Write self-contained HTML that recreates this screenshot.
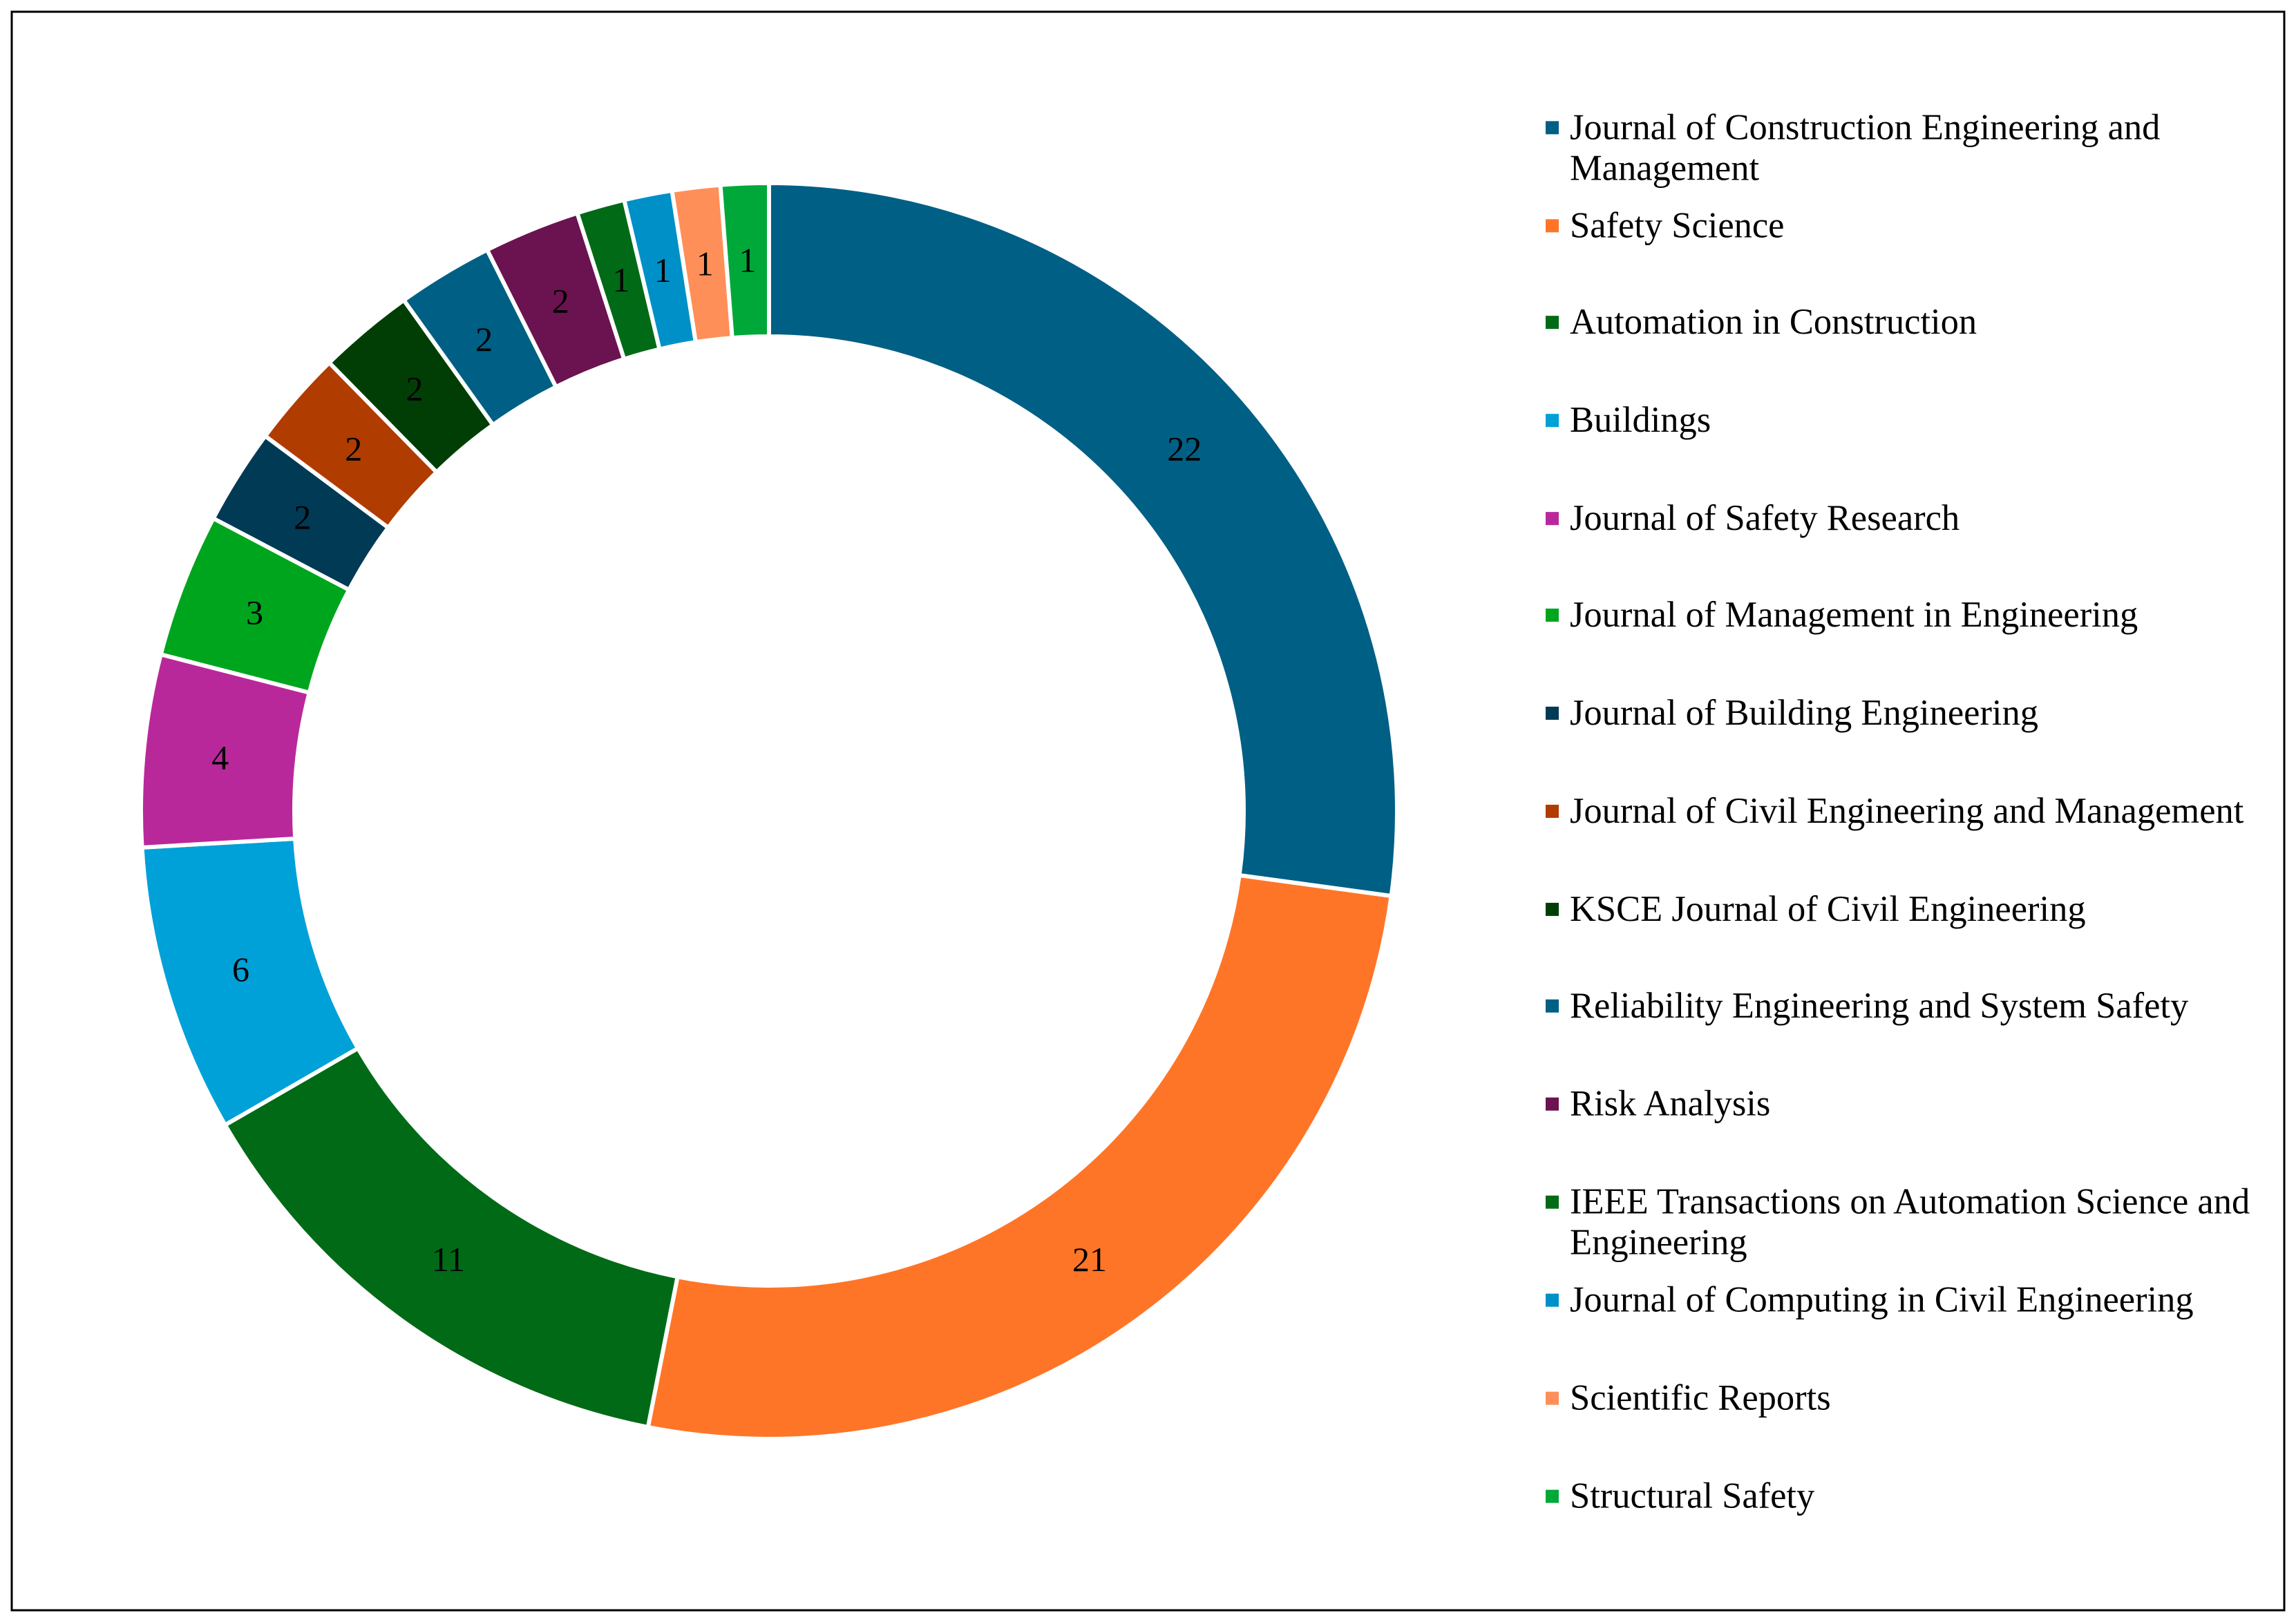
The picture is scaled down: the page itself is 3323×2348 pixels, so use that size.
<!DOCTYPE html>
<html><head><meta charset="utf-8"><style>
html,body{margin:0;padding:0;background:#fff}
svg{display:block}
</style></head><body>
<svg id="chart" width="3323" height="2348" viewBox="0 0 3323 2348" xmlns="http://www.w3.org/2000/svg">
<rect x="17" y="17" width="3289" height="2314" fill="#fff" stroke="#000" stroke-width="3"/>
<g id="slices"></g>
<g id="labels"></g>
<g id="legend"></g>
</svg>
<script>
const categories = ["Journal of Construction Engineering and Management","Safety Science","Automation in Construction","Buildings","Journal of Safety Research","Journal of Management in Engineering","Journal of Building Engineering","Journal of Civil Engineering and Management","KSCE Journal of Civil Engineering","Reliability Engineering and System Safety","Risk Analysis","IEEE Transactions on Automation Science and Engineering","Journal of Computing in Civil Engineering","Scientific Reports","Structural Safety"];
const values = [22,21,11,6,4,3,2,2,2,2,2,1,1,1,1];
const colors = ["#005f85","#ff7528","#006a17","#00a0d8","#b9289a","#00a51e","#003a55","#b03c00","#003e06","#005f85","#6b1350","#006a17","#0090c8","#ff8f58","#00a83a"];
const legendLines = [["Journal of Construction Engineering and","Management"],["Safety Science"],["Automation in Construction"],["Buildings"],["Journal of Safety Research"],["Journal of Management in Engineering"],["Journal of Building Engineering"],["Journal of Civil Engineering and Management"],["KSCE Journal of Civil Engineering"],["Reliability Engineering and System Safety"],["Risk Analysis"],["IEEE Transactions on Automation Science and","Engineering"],["Journal of Computing in Civil Engineering"],["Scientific Reports"],["Structural Safety"]];

const NS="http://www.w3.org/2000/svg";
const cx=1113, cy=1174, R=909, r=687;
const total=values.reduce((a,b)=>a+b,0);
function pt(rad,a){return [cx+rad*Math.sin(a), cy-rad*Math.cos(a)];}
const gS=document.getElementById('slices'), gL=document.getElementById('labels'), gLeg=document.getElementById('legend');
let acc=0;
values.forEach((v,i)=>{
  const a0=acc/total*2*Math.PI; acc+=v; const a1=acc/total*2*Math.PI;
  const large=(a1-a0)>Math.PI?1:0;
  const p0=pt(R,a0),p1=pt(R,a1),q1=pt(r,a1),q0=pt(r,a0);
  const p=document.createElementNS(NS,'path');
  p.setAttribute('d',`M${p0[0]},${p0[1]} A${R},${R} 0 ${large} 1 ${p1[0]},${p1[1]} L${q1[0]},${q1[1]} A${r},${r} 0 ${large} 0 ${q0[0]},${q0[1]} Z`);
  p.setAttribute('fill',colors[i]); p.setAttribute('stroke','#fff'); p.setAttribute('stroke-width','6');
  
  
  gS.appendChild(p);
  const m=pt((R+r)/2,(a0+a1)/2);
  const t=document.createElementNS(NS,'text');
  t.setAttribute('x',m[0]); t.setAttribute('y',m[1]+17);
  t.setAttribute('text-anchor','middle'); t.setAttribute('font-family','"Liberation Serif", serif'); t.setAttribute('font-size','50'); t.setAttribute('fill','#000');
  t.textContent=v;
  
  
  gL.appendChild(t);
});
const rowY=[87,154,220,287,354,420,487,554,621,687,754,821,888,955,1022];
categories.forEach((c,i)=>{
  const y=rowY[i]*2.119;
  const g=document.createElementNS(NS,'g');
  
  
  const sq=document.createElementNS(NS,'rect');
  sq.setAttribute('x',2237); sq.setAttribute('y',y-9); sq.setAttribute('width',19); sq.setAttribute('height',19); sq.setAttribute('fill',colors[i]);
  
  
  g.appendChild(sq);
  legendLines[i].forEach((ln,j)=>{
    const t=document.createElementNS(NS,'text');
    t.setAttribute('x',2272); t.setAttribute('y',y+17+j*59);
    t.setAttribute('font-family','"Liberation Serif", serif'); t.setAttribute('font-size','52.5'); t.setAttribute('fill','#000');
    t.textContent=ln;
    
    
    g.appendChild(t);
  });
  gLeg.appendChild(g);
});
</script>
</body></html>
